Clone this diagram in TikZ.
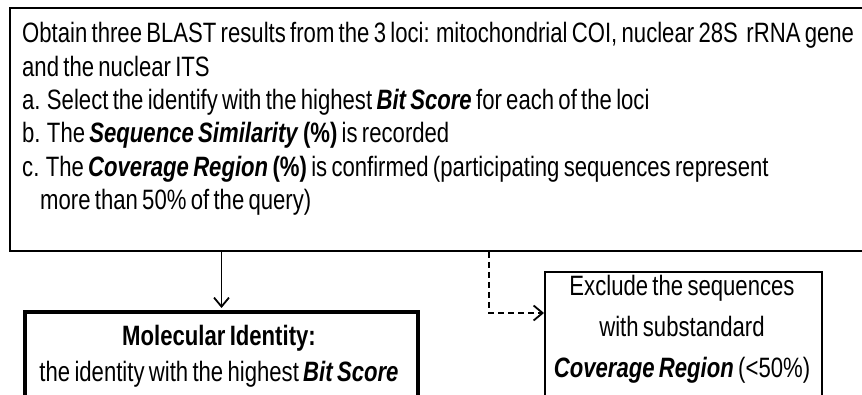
\documentclass[tikz,border=0pt]{standalone}
\usepackage{fontspec}
\setmainfont{Liberation Sans}[FakeStretch=0.79, WordSpace=0.7]
\usetikzlibrary{arrows.meta}

\tikzset{
	box/.style={draw, line width=2pt, inner sep=0pt, anchor=north west},
	thickbox/.style={box, line width=4pt},
	txt/.style={inner sep=0pt, font=\fontsize{28}{32}\selectfont},
	flow/.style={line width=1.8pt, -{Straight Barb[length=9pt, width=15pt]}},
}
\newcommand{\bitext}[1]{\textbf{\textit{#1}}}

\begin{document}
\begin{tikzpicture}[x=1pt, y=-1pt]
	\useasboundingbox (0,0) rectangle (862,395);
	\clip (0,0) rectangle (862,395);

	% top box
	\node [box, minimum width=870pt, minimum height=243pt] (loci) at (9,7) {};
	\node [txt, anchor=base west] (t1) at (22,43) {Obtain three BLAST results from the 3 loci: mitochondrial COI, nuclear 28S\ \ rRNA gene};
	\node [txt, anchor=base west] (t2) at (22,77) {and the nuclear ITS};
	\node [txt, anchor=base west] (t3) at (22,110) {a. Select the identify with the highest \bitext{Bit Score} for each of the loci};
	\node [txt, anchor=base west] (t4) at (22,143) {b. The \bitext{Sequence Similarity} \textbf{(\%)} is recorded};
	\node [txt, anchor=base west] (t5) at (22,177) {c. The \bitext{Coverage Region} \textbf{(\%)} is confirmed (participating sequences represent};
	\node [txt, anchor=base west] (t6) at (40,210) {more than 50\% of the query)};

	% result box
	\node [thickbox, minimum width=393pt, minimum height=120pt] (mol) at (23,310) {};
	\node [txt, anchor=base] (m1) at (219,345) {\textbf{Molecular Identity:}};
	\node [txt, anchor=base] (m2) at (219,381) {the identity with the highest \bitext{Bit Score}};

	% excluded box
	\node [box, minimum width=277pt, minimum height=150pt] (excl) at (544,271) {};
	\node [txt, anchor=base] (e1) at (682,296) {Exclude the sequences};
	\node [txt, anchor=base] (e2) at (682,336) {with substandard};
	\node [txt, anchor=base] (e3) at (682,377) {\bitext{Coverage Region} (<50\%)};

	\coordinate (bend) at (489,313);

	\draw [flow, shorten >=2pt] (loci.south -| mol.north) -- (mol.north);
	\draw [flow, dash pattern=on 6pt off 4pt] (loci.south -| bend) |- (bend -| excl.west);
\end{tikzpicture}
\end{document}
